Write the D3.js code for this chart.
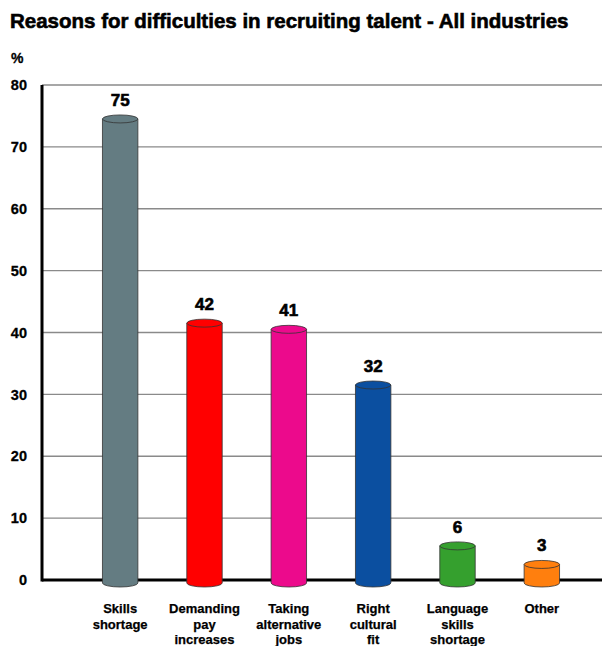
<!DOCTYPE html>
<html>
<head>
<meta charset="utf-8">
<script src="https://cdn.jsdelivr.net/npm/d3@7"></script>
<style>
  html, body { margin: 0; padding: 0; background: #fff; }
  svg { display: block; font-family: "Liberation Sans", Arial, Helvetica, sans-serif; }
</style>
</head>
<body>
<svg id="chart" width="602" height="646"></svg>
<script>
// Survey results: share of respondents citing each reason
const categories = [
  ["Skills", "shortage"],
  ["Demanding", "pay", "increases"],
  ["Taking", "alternative", "jobs"],
  ["Right", "cultural", "fit"],
  ["Language", "skills", "shortage"],
  ["Other"]
];
const values = [75, 42, 41, 32, 6, 3];
const colors = ["#647c82", "#ff0000", "#ec0a8c", "#0b4fa0", "#35a02e", "#ff7f0e"];
const yTicks = [0, 10, 20, 30, 40, 50, 60, 70, 80];

const svg = d3.select("#chart");
const plotLeft = 42, plotRight = 602, plotTop = 85, plotBottom = 580;

const x = d3.scaleBand()
  .domain(d3.range(values.length))
  .range([78, 584])
  .paddingInner(0.58)
  .paddingOuter(0.29);
const y = d3.scaleLinear().domain([0, 80]).range([plotBottom, plotTop]);

// Title (heavy weight via a thin stroke)
svg.append("text")
  .attr("x", 10).attr("y", 28)
  .attr("font-size", 20.5).attr("font-weight", "bold")
  .attr("fill", "#000").attr("stroke", "#000").attr("stroke-width", 0.6)
  .text("Reasons for difficulties in recruiting talent - All industries");

svg.append("text")
  .attr("x", 11).attr("y", 63)
  .attr("font-size", 14).attr("font-weight", "bold")
  .attr("stroke", "#000").attr("stroke-width", 0.3)
  .text("%");

// Gridlines
svg.append("g")
  .selectAll("line")
  .data(yTicks.filter(d => d > 0))
  .join("line")
  .attr("x1", plotLeft).attr("x2", plotRight)
  .attr("y1", d => y(d)).attr("y2", d => y(d))
  .attr("stroke", "#8a8a8a").attr("stroke-width", 1.3);

// Y axis
const yAxis = d3.axisLeft(y).tickValues(yTicks).tickSize(0).tickPadding(15);
const ga = svg.append("g").attr("transform", `translate(${plotLeft},0)`).call(yAxis);
ga.select(".domain").remove();
ga.selectAll("text")
  .attr("font-size", 14.5).attr("font-weight", "bold")
  .attr("fill", "#000").attr("stroke", "#000").attr("stroke-width", 0.3)
  .attr("font-family", "'Liberation Sans', Arial, sans-serif");

// Baseline
svg.append("line")
  .attr("x1", plotLeft).attr("x2", plotRight)
  .attr("y1", y(0)).attr("y2", y(0))
  .attr("stroke", "#000").attr("stroke-width", 3);

svg.append("line")
  .attr("x1", plotLeft).attr("x2", plotLeft)
  .attr("y1", plotTop).attr("y2", y(0) + 1.5)
  .attr("stroke", "#000").attr("stroke-width", 3);

// Cylinders
const ry = 4, shift = 3;
const bars = svg.append("g").selectAll("g")
  .data(values)
  .join("g");

bars.append("path")
  .attr("d", (d, i) => {
    const x0 = x(i), x1 = x(i) + x.bandwidth();
    const rx = x.bandwidth() / 2;
    const yt = y(d) + shift, yb = y(0) + shift;
    return `M${x0},${yt} L${x0},${yb} A${rx},${ry} 0 0 0 ${x1},${yb} L${x1},${yt} Z`;
  })
  .attr("fill", (d, i) => colors[i])
  .attr("stroke", "#333").attr("stroke-width", 0.8);

bars.append("ellipse")
  .attr("cx", (d, i) => x(i) + x.bandwidth() / 2)
  .attr("cy", d => y(d) + shift)
  .attr("rx", x.bandwidth() / 2)
  .attr("ry", ry)
  .attr("fill", (d, i) => colors[i])
  .attr("stroke", "#333").attr("stroke-width", 0.8);

// Value labels
bars.append("text")
  .attr("x", (d, i) => x(i) + x.bandwidth() / 2)
  .attr("y", d => y(d) - 10)
  .attr("text-anchor", "middle")
  .attr("font-size", 17).attr("font-weight", "bold")
  .attr("stroke", "#000").attr("stroke-width", 0.6)
  .text(d => d);

// Category labels
const cat = svg.append("g").selectAll("text")
  .data(categories)
  .join("text")
  .attr("text-anchor", "middle")
  .attr("font-size", 13).attr("font-weight", "bold")
  .attr("stroke", "#000").attr("stroke-width", 0.25)
  .attr("x", (d, i) => x(i) + x.bandwidth() / 2)
  .attr("y", 613);
cat.selectAll("tspan")
  .data(d => d)
  .join("tspan")
  .attr("x", function () { return d3.select(this.parentNode).attr("x"); })
  .attr("dy", (d, j) => j === 0 ? 0 : 15.5)
  .text(d => d);
</script>
</body>
</html>
